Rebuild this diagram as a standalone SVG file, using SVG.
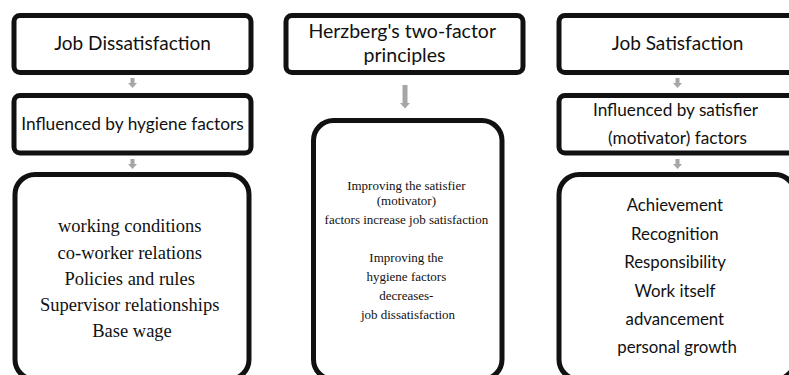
<svg xmlns="http://www.w3.org/2000/svg" width="789" height="375" viewBox="0 0 789 375">
<style>
.box{fill:#fff;stroke:#111;stroke-width:5}
.sans{font-family:Lato,"Open Sans","Noto Sans",sans-serif;fill:#111;text-anchor:middle}
.serif{font-family:"Liberation Serif","Times New Roman",serif;fill:#111;text-anchor:middle}
.arr{fill:#a6a6a6}
</style>
<rect width="789" height="375" fill="#fff"/>
<g id="connectors">
<path class="arr" d="M130.5,78 h4 v5 h2.5 l-4.5,5 l-4.5,-5 h2.5 z"/>
<path class="arr" d="M130.5,159 h4 v5 h2.5 l-4.5,5 l-4.5,-5 h2.5 z"/>
<path class="arr" d="M402.5,85 h5 v18 h2.5 l-5,5.5 l-5,-5.5 h2.5 z"/>
<path class="arr" d="M675.5,78 h4 v5 h2.5 l-4.5,5 l-4.5,-5 h2.5 z"/>
<path class="arr" d="M675.5,159 h4 v5 h2.5 l-4.5,5 l-4.5,-5 h2.5 z"/>
</g>
<g id="job-dissatisfaction">
<rect class="box" x="14" y="15.5" width="237" height="57" rx="6"/>
<text class="sans" x="132.5" y="50" font-size="19">Job Dissatisfaction</text>
</g>
<g id="hygiene">
<rect class="box" x="14" y="95.5" width="237" height="57.5" rx="6"/>
<text class="sans" x="132.5" y="130" font-size="17.3">Influenced by hygiene factors</text>
</g>
<g id="hygiene-list">
<rect class="box" x="15" y="174.5" width="234" height="205" rx="20"/>
<text class="serif" x="132" font-size="18.5">
<tspan x="132" y="232">working conditions</tspan>
<tspan x="132" y="258.5">co-worker relations</tspan>
<tspan x="132" y="285">Policies and rules</tspan>
<tspan x="132" y="311">Supervisor relationships</tspan>
<tspan x="132" y="337">Base wage</tspan>
</text>
</g>
<g id="herzberg">
<rect class="box" x="286" y="15.5" width="237" height="57" rx="6"/>
<text class="sans" font-size="19.5">
<tspan x="404.5" y="38">Herzberg's two-factor</tspan>
<tspan x="404.5" y="61.5">principles</tspan>
</text>
</g>
<g id="principles">
<rect class="box" x="313.5" y="120.5" width="188.5" height="259" rx="20"/>
<text class="serif" font-size="13">
<tspan x="408" y="189.5">Improving the satisfier</tspan>
<tspan x="408" y="204.5">(motivator)</tspan>
<tspan x="408" y="223.5">factors increase job satisfaction</tspan>
<tspan x="408" y="262">Improving the</tspan>
<tspan x="408" y="281">hygiene factors</tspan>
<tspan x="408" y="300">decreases-</tspan>
<tspan x="408" y="318.5">job dissatisfaction</tspan>
</text>
</g>
<g id="job-satisfaction">
<rect class="box" x="559" y="15.5" width="237" height="57" rx="6"/>
<text class="sans" x="677.5" y="50" font-size="19">Job Satisfaction</text>
</g>
<g id="motivators">
<rect class="box" x="559" y="95.5" width="237" height="57.5" rx="6"/>
<text class="sans" font-size="17.2">
<tspan x="677.5" y="115.5">Influenced by satisfier</tspan>
<tspan x="677.5" y="143.5">(motivator) factors</tspan>
</text>
</g>
<g id="motivator-list">
<rect class="box" x="559" y="174.5" width="236" height="205" rx="20"/>
<text class="sans" font-size="16.8">
<tspan x="677" y="211">Achievement</tspan>
<tspan x="677" y="239.5">Recognition</tspan>
<tspan x="677" y="268">Responsibility</tspan>
<tspan x="677" y="296.5">Work itself</tspan>
<tspan x="677" y="325">advancement</tspan>
<tspan x="677" y="353">personal growth</tspan>
</text>
</g>
</svg>
